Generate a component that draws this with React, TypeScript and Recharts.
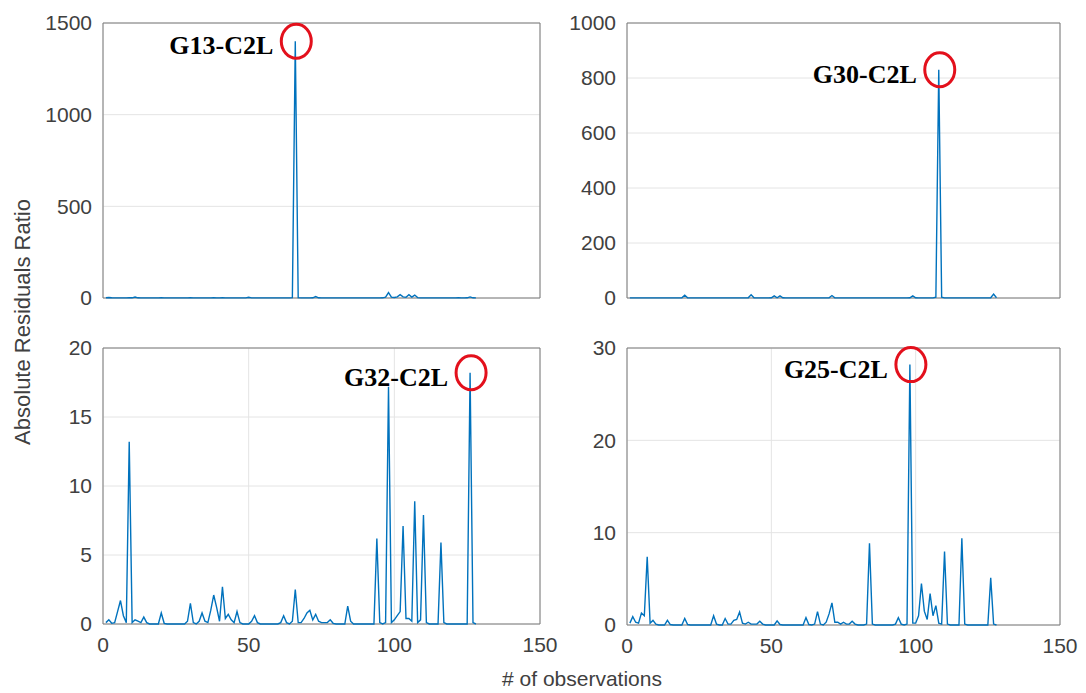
import React from 'react';
import {
  LineChart,
  Line,
  XAxis,
  YAxis,
  CartesianGrid,
  ReferenceArea,
  ReferenceDot,
} from 'recharts';

// x axis is shared by all four panels
const X_TICKS = [0, 50, 100, 150];

const g13Values = [
  1, 3, 1, 0.5, 0.5, 0.5, 0.5, 0.5, 1, 1, 5, 1, 0.5, 0.5, 0.5, 0.5,
  0.5, 0.5, 0.5, 1, 0.5, 0.5, 0.5, 0.5, 0.5, 0.5, 0.5, 0.5, 0.5, 1, 0.5, 0.5,
  0.5, 0.5, 0.5, 0.5, 0.5, 1, 0.5, 0.5, 1, 0.5, 0.5, 0.5, 0.5, 0.5, 0.5, 0.5,
  0.5, 4, 0.5, 0.5, 0.5, 0.5, 0.5, 0.5, 0.5, 0.5, 0.5, 0.5, 0.5, 0.5, 0.5, 0.5,
  2, 1400, 2, 0.5, 0.5, 0.5, 0.5, 1, 8, 1, 0.5, 0.5, 0.5, 0.5, 0.5, 0.5,
  0.5, 0.5, 0.5, 0.5, 0.5, 0.5, 0.5, 0.5, 0.5, 0.5, 0.5, 0.5, 0.5, 0.5, 0.5, 1,
  5, 30, 5, 3, 6, 18, 6, 4, 18, 5, 16, 2, 0.5, 0.5, 0.5, 0.5,
  0.5, 0.5, 0.5, 0.5, 0.5, 0.5, 0.5, 0.5, 0.5, 1, 0.5, 0.5, 1, 6, 1, 0.5,
];
const g13Ticks = [0, 500, 1000, 1500];

const g30Values = [
  0.5, 0.5, 0.5, 0.5, 0.5, 0.5, 0.5, 0.5, 0.5, 0.5, 0.5, 0.5, 0.5, 0.5, 0.5, 0.5,
  0.5, 0.5, 1, 10, 1, 0.5, 0.5, 0.5, 0.5, 0.5, 0.5, 0.5, 0.5, 0.5, 0.5, 0.5,
  0.5, 0.5, 0.5, 0.5, 0.5, 0.5, 0.5, 0.5, 0.5, 1, 12, 1, 0.5, 0.5, 0.5, 0.5,
  0.5, 1, 8, 1, 8, 1, 0.5, 0.5, 0.5, 0.5, 0.5, 0.5, 0.5, 0.5, 0.5, 0.5,
  0.5, 0.5, 0.5, 0.5, 0.5, 1, 9, 1, 0.5, 0.5, 0.5, 0.5, 0.5, 0.5, 0.5, 0.5,
  0.5, 0.5, 0.5, 0.5, 0.5, 0.5, 0.5, 0.5, 0.5, 0.5, 0.5, 0.5, 0.5, 0.5, 0.5, 0.5,
  0.5, 1, 8, 1, 0.5, 0.5, 0.5, 0.5, 0.5, 0.5, 3, 830, 3, 0.5, 0.5, 0.5,
  0.5, 0.5, 0.5, 0.5, 0.5, 0.5, 0.5, 0.5, 0.5, 0.5, 0.5, 0.5, 0.5, 1, 14, 1,
];
const g30Ticks = [0, 200, 400, 600, 800, 1000];

const g32Values = [
  0.1, 0.3, 0.05, 0.1, 0.9, 1.7, 0.6, 0.1, 13.2, 0.1, 0.3, 0.2, 0.1, 0.5, 0.1, 0,
  0, 0, 0, 0.8, 0.05, 0, 0, 0, 0, 0, 0, 0, 0.2, 1.5, 0.1, 0,
  0.2, 0.8, 0.2, 0.1, 1.0, 2.1, 1.2, 0.2, 2.7, 0.4, 0.7, 0.3, 0.1, 0.9, 0.1, 0,
  0, 0, 0.2, 0.6, 0.1, 0, 0, 0, 0, 0, 0, 0, 0.1, 0.6, 0.1, 0,
  0.2, 2.5, 0.1, 0.1, 0.4, 0.8, 1.0, 0.3, 0.7, 0.2, 0.1, 0.1, 0.1, 0.3, 0.05, 0,
  0, 0, 0, 1.3, 0.2, 0, 0, 0, 0, 0, 0, 0, 0, 6.2, 0.1, 0,
  0.1, 17.2, 0.1, 0.3, 0.6, 0.9, 7.1, 0.4, 0.4, 0.2, 8.9, 0.1, 0.3, 7.9, 0.1, 0,
  0, 0, 0, 5.9, 0.1, 0, 0, 0, 0, 0, 0, 0, 0, 18.2, 0.1, 0,
];
const g32Ticks = [0, 5, 10, 15, 20];

const g25Values = [
  0.2, 0.9, 0.3, 0.2, 1.3, 1.0, 7.4, 0.2, 0.5, 0.1, 0, 0, 0, 0.5, 0.05, 0,
  0, 0, 0, 0.7, 0.05, 0, 0, 0, 0, 0, 0, 0, 0, 1.0, 0.1, 0,
  0, 0.7, 0.1, 0.1, 0.5, 0.6, 1.4, 0.2, 0.1, 0.3, 0.1, 0.1, 0.1, 0.4, 0.1, 0,
  0, 0, 0, 0.45, 0.05, 0, 0, 0, 0, 0, 0, 0, 0, 0.8, 0.05, 0,
  0.1, 1.45, 0.1, 0, 0.3, 1.2, 2.4, 0.3, 0.3, 0.1, 0.3, 0.1, 0.1, 0.4, 0.1, 0,
  0, 0, 0.1, 8.85, 0.1, 0, 0, 0, 0, 0, 0, 0, 0.1, 0.8, 0.1, 0,
  0.1, 28.2, 0.2, 0.2, 1.0, 4.5, 1.5, 0.6, 3.4, 1.0, 2.1, 0.2, 0.1, 7.95, 0.1, 0,
  0, 0, 0, 9.4, 0.1, 0, 0, 0, 0, 0, 0, 0, 0, 5.1, 0.1, 0,
];
const g25Ticks = [0, 10, 20, 30];

const SANS = '"Liberation Sans", Arial, Helvetica, sans-serif';
const SERIF = '"Liberation Serif", "Times New Roman", serif';
const LINE_BLUE = '#0072BD';
const TEXT_GREY = '#404040';

// room around each plot box, so tick labels at the ends are not clipped
const Y_AXIS_W = 90;
const PAD_TOP = 20;
const PAD_RIGHT = 26;
const X_AXIS_H = 40;

const tickStyle = { fill: TEXT_GREY, fontSize: 21, fontFamily: SANS };

function PeakMarker(props: any) {
  const { cx, cy, tag } = props;
  if (cx == null || cy == null) return null;
  return (
    <g>
      <ellipse cx={cx + 1} cy={cy} rx={15} ry={17} fill="none" stroke="#e3101c" strokeWidth={3} />
      <text
        x={cx - 22}
        y={cy + 13}
        textAnchor="end"
        fontFamily={SERIF}
        fontWeight="bold"
        fontSize={26}
        fill="#000"
      >
        {tag}
      </text>
    </g>
  );
}

type PanelProps = {
  values: number[];
  yTicks: number[];
  peakObs: number;
  tag: string;
  left: number;
  top: number;
  plotW: number;
  plotH: number;
  showXTicks: boolean;
};

function Panel({ values, yTicks, peakObs, tag, left, top, plotW, plotH, showXTicks }: PanelProps) {
  const data = values.map((v, i) => ({ obs: i + 1, v }));
  const yMax = yTicks[yTicks.length - 1];
  const peak = values[peakObs - 1];

  return (
    <div style={{ position: 'absolute', left: left - Y_AXIS_W, top: top - PAD_TOP }}>
      <LineChart
        width={plotW + Y_AXIS_W + PAD_RIGHT}
        height={plotH + PAD_TOP + X_AXIS_H}
        data={data}
        margin={{ top: PAD_TOP, right: PAD_RIGHT, left: 0, bottom: 0 }}
      >
        <CartesianGrid stroke="#e4e4e4" />
        <XAxis
          dataKey="obs"
          type="number"
          domain={[0, 150]}
          ticks={X_TICKS}
          interval={0}
          height={X_AXIS_H}
          axisLine={false}
          tickLine={false}
          tickSize={0}
          tickMargin={13}
          tick={showXTicks ? tickStyle : false}
        />
        <YAxis
          type="number"
          domain={[0, yMax]}
          ticks={yTicks}
          interval={0}
          width={Y_AXIS_W}
          axisLine={false}
          tickLine={false}
          tickSize={0}
          tickMargin={11}
          tick={tickStyle}
        />
        <ReferenceArea
          x1={0}
          x2={150}
          y1={0}
          y2={yMax}
          fill="none"
          fillOpacity={0}
          stroke="#7a7a7a"
          strokeWidth={1}
        />
        <Line
          type="linear"
          dataKey="v"
          stroke={LINE_BLUE}
          strokeWidth={1.4}
          dot={false}
          isAnimationActive={false}
        />
        <ReferenceDot
          x={peakObs}
          y={peak}
          r={1}
          shape={(p: any) => <PeakMarker {...p} tag={tag} />}
        />
      </LineChart>
    </div>
  );
}

export default function App() {
  return (
    <div
      style={{
        position: 'absolute',
        left: 0,
        top: 0,
        width: 1086,
        height: 693,
        background: '#fff',
        fontFamily: SANS,
      }}
    >
      <Panel values={g13Values} yTicks={g13Ticks} peakObs={66} tag="G13-C2L"
        left={103} top={23} plotW={437} plotH={275} showXTicks={false} />
      <Panel values={g30Values} yTicks={g30Ticks} peakObs={108} tag="G30-C2L"
        left={627} top={23} plotW={433} plotH={275} showXTicks={false} />
      <Panel values={g32Values} yTicks={g32Ticks} peakObs={126} tag="G32-C2L"
        left={103} top={348} plotW={437} plotH={276} showXTicks />
      <Panel values={g25Values} yTicks={g25Ticks} peakObs={98} tag="G25-C2L"
        left={627} top={348} plotW={433} plotH={277} showXTicks />
      <svg
        width={1086}
        height={693}
        style={{ position: 'absolute', left: 0, top: 0, pointerEvents: 'none' }}
      >
        <text
          x={22}
          y={322}
          transform="rotate(-90 22 322)"
          textAnchor="middle"
          dominantBaseline="central"
          fontFamily={SANS}
          fontSize={22}
          fill={TEXT_GREY}
        >
          Absolute Residuals Ratio
        </text>
        <text
          x={582}
          y={686}
          textAnchor="middle"
          fontFamily={SANS}
          fontSize={21}
          fill={TEXT_GREY}
        >
          # of observations
        </text>
      </svg>
    </div>
  );
}
